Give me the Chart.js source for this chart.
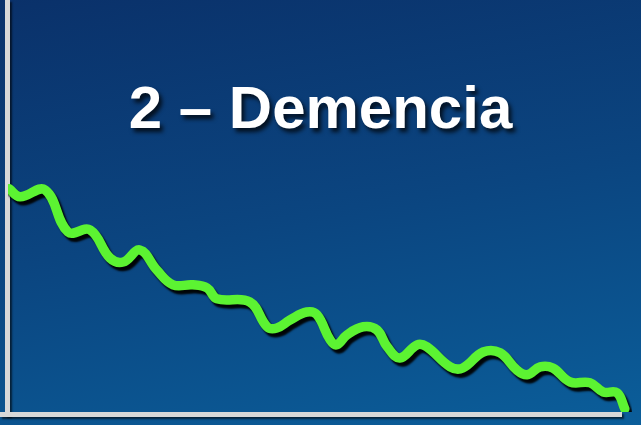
<!DOCTYPE html>
<html>
<head>
<meta charset="utf-8">
<script src="https://cdn.jsdelivr.net/npm/chart.js@4"></script>
<style>
  html, body { margin: 0; padding: 0; }
  body { width: 641px; height: 425px; overflow: hidden; }
  .wrap {
    position: relative; width: 641px; height: 425px;
    background: linear-gradient(170deg, #0a316a 0%, #0b4580 50%, #0b5e9a 100%);
  }
  .title {
    position: absolute; left: 0; width: 641px; top: 73px;
    text-align: center; color: #fff;
    font: bold 60px "Liberation Sans", Arial, sans-serif;
    text-shadow: 3px 4px 4px rgba(0, 0, 0, 0.75);
  }
  canvas { position: absolute; left: 0; top: 0; }
</style>
</head>
<body>
<div class="wrap">
  <canvas class="my-chart" width="641" height="425"></canvas>
  <div class="title">2 – Demencia</div>
</div>
<script>
// time (arbitrary units) and cognitive level
const timeX = [0.2, 2.0, 6.2, 10.0, 13.7, 17.0, 19.2, 22.0, 24.8, 27.5, 30.8, 33.2, 34.8, 40.3,
  43.2, 44.8, 47.0, 49.8, 51.5, 53.7, 54.8, 56.5, 59.2, 61.5, 63.2, 65.3, 68.2, 69.8, 73.7,
  75.8, 79.2, 82.0, 84.8, 86.5, 88.7, 90.8, 93.7, 97.0, 99.2, 101.5, 102.8];
const levelY = [55.8, 53.8, 55.5, 45.0, 45.5, 38.5, 37.5, 40.5, 35.5, 31.8, 31.8, 31.0, 28.3, 27.5,
  21.3, 21.0, 23.0, 25.0, 24.3, 18.0, 16.8, 19.3, 21.3, 20.5, 16.3, 13.5, 16.8, 16.3, 11.3,
  11.0, 15.0, 14.8, 10.5, 9.3, 11.3, 11.0, 7.5, 7.3, 5.0, 4.8, 0.8];

const points = timeX.map((x, i) => ({ x: x, y: levelY[i] }));

// axes drawn as light bars along the chart area edges
const axesPlugin = {
  id: "axes",
  beforeDatasetsDraw(chart) {
    const ctx = chart.ctx;
    const a = chart.chartArea;
    ctx.save();
    ctx.shadowColor = "rgba(0,0,0,0.6)";
    ctx.shadowOffsetX = 2;
    ctx.shadowOffsetY = 2;
    ctx.shadowBlur = 2;
    ctx.fillStyle = "#d8d8d8";
    ctx.fillRect(a.left - 3, 0, 5, a.bottom + 4);
    ctx.fillRect(0, a.bottom, a.right - 10, 5);
    ctx.restore();
  },
};

// dark drop shadow under the green line
const shadowPlugin = {
  id: "lineShadow",
  beforeDatasetDraw(chart) {
    const ctx = chart.ctx;
    ctx.save();
    ctx.shadowColor = "rgba(0,0,0,0.95)";
    ctx.shadowOffsetX = 3;
    ctx.shadowOffsetY = 4;
    ctx.shadowBlur = 2;
  },
  afterDatasetDraw(chart) {
    chart.ctx.restore();
  },
};

new Chart(document.querySelector(".my-chart"), {
  type: "line",
  data: {
    datasets: [
      {
        data: points,
        borderColor: "#5cf332",
        borderWidth: 9.5,
        tension: 0.4,
        pointRadius: 0,
        borderCapStyle: "round",
        borderJoinStyle: "round",
        fill: false,
      },
    ],
  },
  options: {
    responsive: false,
    animation: false,
    layout: { padding: { left: 8, right: 9, top: 0, bottom: 13 } },
    scales: {
      x: { type: "linear", min: 0, max: 104, display: false },
      y: { min: 0, max: 103, display: false },
    },
    plugins: {
      legend: { display: false },
      tooltip: { enabled: false },
    },
  },
  plugins: [axesPlugin, shadowPlugin],
});
</script>
</body>
</html>
